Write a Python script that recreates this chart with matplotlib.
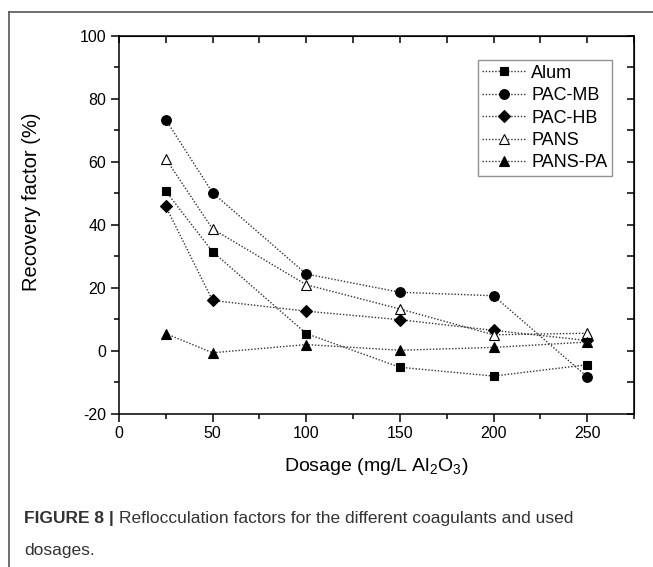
import matplotlib
matplotlib.use("Agg")
import matplotlib.pyplot as plt
from matplotlib.lines import Line2D
from matplotlib.ticker import MultipleLocator

plt.rcParams['font.family'] = ['Liberation Sans', 'DejaVu Sans']
plt.rcParams['mathtext.fontset'] = 'custom'
plt.rcParams['mathtext.rm'] = 'Liberation Sans'
plt.rcParams['axes.unicode_minus'] = False

# data
dosage = [25, 50, 100, 150, 200, 250]
alum = [50.7, 31.5, 5.5, -5.2, -8.0, -4.4]
pac_mb = [73.4, 50.2, 24.4, 18.6, 17.5, -8.2]
pac_hb = [45.9, 16.0, 12.6, 9.9, 6.5, 3.3]
pans = [61.0, 38.7, 21.0, 13.3, 5.1, 5.6]
pans_pa = [5.5, -0.6, 2.0, 0.2, 1.1, 2.8]

series = [
    ("Alum", alum, "s", "black"),
    ("PAC-MB", pac_mb, "o", "black"),
    ("PAC-HB", pac_hb, "D", "black"),
    ("PANS", pans, "^", "white"),
    ("PANS-PA", pans_pa, "^", "black"),
]
sizes = {"s": 6.3, "o": 7, "D": 6, "^": 7.5}

fig = plt.figure(figsize=(6.53, 5.67), dpi=100)
ax = fig.add_axes([0.182, 0.270, 0.789, 0.667])

for name, vals, mk, fc in series:
    ax.plot(dosage, vals, linestyle=(0, (1, 1.3)), color="#333333", lw=1.0,
            marker=mk, ms=sizes[mk], mfc=fc, mec="black", mew=0.8, label=name)

ax.set_xlim(0, 275)
ax.set_ylim(-20, 100)
ax.xaxis.set_major_locator(MultipleLocator(50))
ax.xaxis.set_minor_locator(MultipleLocator(25))
ax.yaxis.set_major_locator(MultipleLocator(20))
ax.yaxis.set_minor_locator(MultipleLocator(10))
ax.tick_params(which='major', direction='out', length=6, width=1.1, labelsize=11.5, pad=3)
ax.tick_params(which='minor', direction='out', length=3.5, width=1.1)
for sp in ax.spines.values():
    sp.set_linewidth(1.1)

# inward ticks on top and right
top = ax.secondary_xaxis('top')
top.xaxis.set_major_locator(MultipleLocator(25))
top.tick_params(direction='in', length=5, width=1.1, labeltop=False)
right = ax.secondary_yaxis('right')
right.yaxis.set_major_locator(MultipleLocator(10))
right.tick_params(direction='in', length=5, width=1.1, labelright=False)

ax.set_xlabel(r"Dosage (mg/L Al$_\mathregular{2}$O$_\mathregular{3}$)", fontsize=14)
ax.set_ylabel("Recovery factor (%)", fontsize=14.5)
ax.xaxis.set_label_coords(0.5, -0.11)
ax.yaxis.set_label_coords(-0.151, 0.56)

leg = ax.legend(loc='upper right', bbox_to_anchor=(0.957, 0.935), fontsize=13,
                frameon=True, fancybox=False, edgecolor='#777777',
                handlelength=2.4, handletextpad=0.3, labelspacing=0.3,
                borderpad=0.25, borderaxespad=0)
leg.get_frame().set_linewidth(1.0)

# page frame (left and top edges)
fig.add_artist(Line2D([9/653, 9/653], [0, 1 - 12/567], color='#555555', lw=1.2))
fig.add_artist(Line2D([9/653, 1], [1 - 12/567, 1 - 12/567], color='#555555', lw=1.2))

# caption
t1 = fig.text(24/653, 1 - 519/567, "FIGURE 8 | ", fontsize=12.5, fontweight='bold',
              color='#333333', va='center')
fig.canvas.draw()
bb = t1.get_window_extent()
fig.text(bb.x1 / fig.bbox.width, 1 - 519/567,
         "Reflocculation factors for the different coagulants and used",
         fontsize=12.5, color='#333333', va='center')
fig.text(24/653, 1 - 550/567, "dosages.", fontsize=12.5, color='#333333', va='center')

fig.savefig("out.png", dpi=100)
